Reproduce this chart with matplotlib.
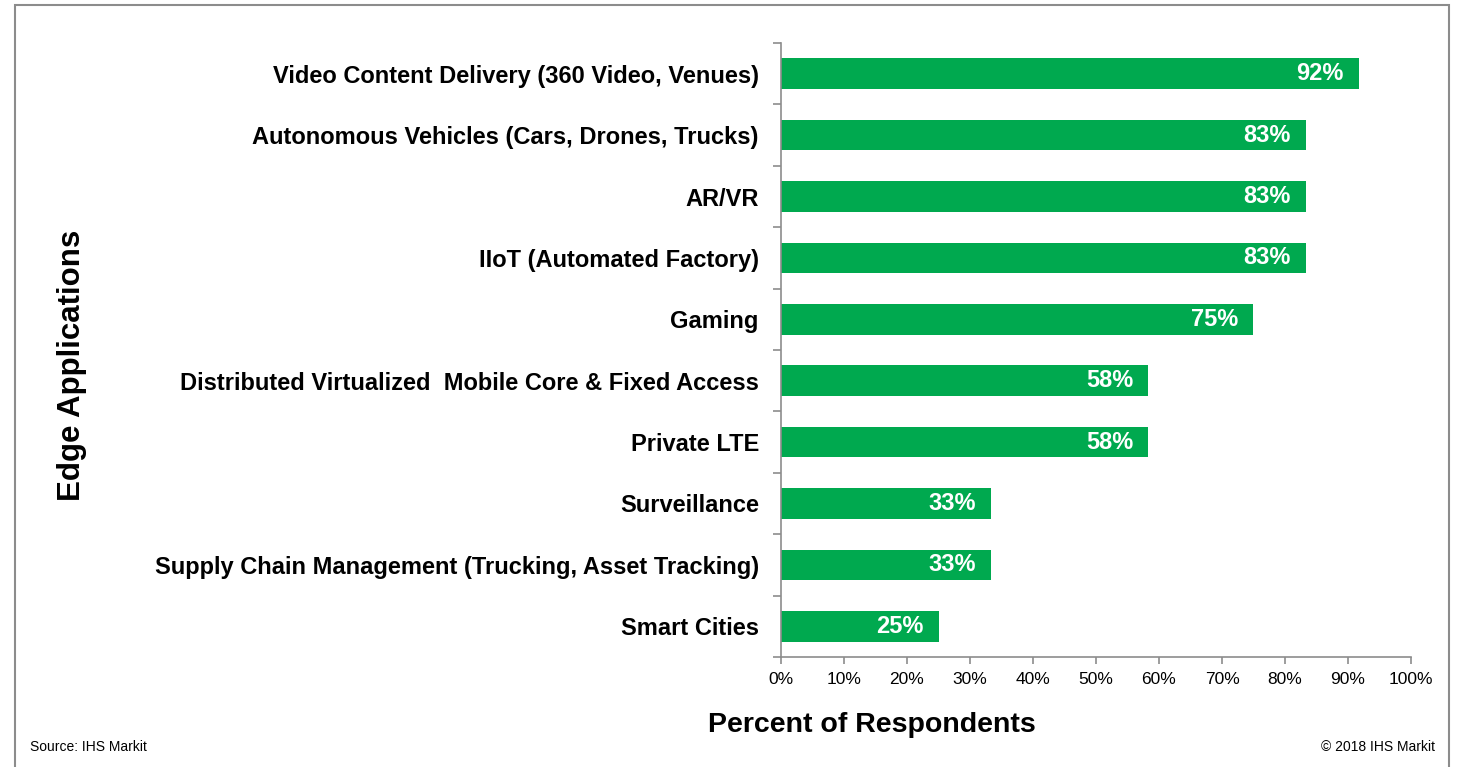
import matplotlib.pyplot as plt
import matplotlib.patches as patches
from matplotlib.ticker import FixedLocator, PercentFormatter

plt.rcParams['font.family'] = ['Liberation Sans', 'DejaVu Sans']

categories = [
    'Video Content Delivery (360 Video, Venues)',
    'Autonomous Vehicles (Cars, Drones, Trucks)',
    'AR/VR',
    'IIoT (Automated Factory)',
    'Gaming',
    'Distributed Virtualized  Mobile Core & Fixed Access',
    'Private LTE',
    'Surveillance',
    'Supply Chain Management (Trucking, Asset Tracking)',
    'Smart Cities',
]
percent = [91.7, 83.3, 83.3, 83.3, 75.0, 58.3, 58.3, 33.3, 33.3, 25.0]

bar_color = '#00A94F'
gray = '#8C8C8C'

fig = plt.figure(figsize=(14.58, 7.67), dpi=100)
ax = fig.add_axes([781 / 1458, 1 - 657 / 767, 630 / 1458, 614 / 767])

pos = list(range(len(categories)))
ax.barh(pos, percent, height=0.5, color=bar_color)
for y, v in zip(pos, percent):
    ax.text(v - 2.4, y, f'{v:.0f}%', ha='right', va='center', color='white',
            fontsize=17, fontweight='bold')

ax.set_xlim(0, 100)
ax.set_ylim(len(categories) - 0.5, -0.5)

ax.set_yticks(pos)
ax.set_yticklabels(categories, fontsize=17, fontweight='bold')
ax.yaxis.set_minor_locator(FixedLocator([i - 0.5 for i in range(len(categories) + 1)]))
ax.tick_params(axis='y', which='major', length=0, pad=16)
ax.tick_params(axis='y', which='minor', length=6, color=gray, width=1.2)

ax.set_xticks(range(0, 101, 10))
ax.xaxis.set_major_formatter(PercentFormatter(decimals=0))
ax.tick_params(axis='x', length=5, color=gray, width=1.2, labelsize=12.5, pad=6)

for side in ['top', 'right']:
    ax.spines[side].set_visible(False)
for side in ['left', 'bottom']:
    ax.spines[side].set_color(gray)
    ax.spines[side].set_linewidth(1.2)

fig.text(872 / 1458, 1 - 725 / 767, 'Percent of Respondents', ha='center', va='center',
         fontsize=20.5, fontweight='bold')
fig.text(72 / 1458, 1 - 365 / 767, 'Edge Applications', ha='center', va='center',
         rotation=90, fontsize=22.5, fontweight='bold')
fig.text(30 / 1458, 1 - 747 / 767, 'Source: IHS Markit', ha='left', va='center', fontsize=10)
fig.text(1435 / 1458, 1 - 747 / 767, '\u00a9 2018 IHS Markit', ha='right', va='center', fontsize=10)

fig.patches.append(patches.Rectangle((15 / 1458, -0.05), 1434 / 1458, 1.05 - 4.5 / 767,
                                     transform=fig.transFigure, fill=False,
                                     edgecolor=gray, linewidth=1.5))

fig.savefig('out.png', dpi=100)
